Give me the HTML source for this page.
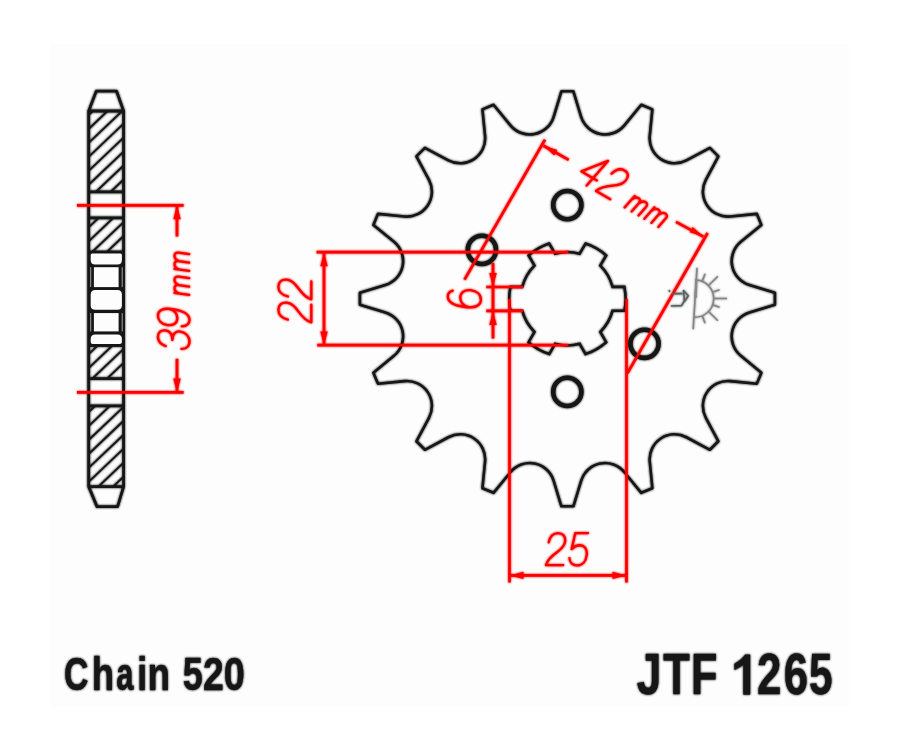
<!DOCTYPE html>
<html><head><meta charset="utf-8"><style>
html,body{margin:0;padding:0;background:#fff;}
body{width:900px;height:752px;overflow:hidden;font-family:"Liberation Sans", sans-serif;}
svg{display:block;}
</style></head><body>
<svg width="900" height="752" viewBox="0 0 900 752"><defs><filter id="soft" x="0" y="0" width="900" height="752" filterUnits="userSpaceOnUse"><feGaussianBlur stdDeviation="0.8"/></filter><g id="art"><defs><clipPath id="h0"><rect x="88.7" y="111.0" width="34.9" height="80.8"/></clipPath><clipPath id="h1"><rect x="88.7" y="217.9" width="34.9" height="33.1"/></clipPath><clipPath id="h2"><rect x="88.7" y="346.0" width="34.9" height="32.6"/></clipPath><clipPath id="h3"><rect x="88.7" y="405.8" width="34.9" height="80.8"/></clipPath></defs><g clip-path="url(#h0)"><line x1="83.70" y1="119.73" x2="128.60" y2="77.08" stroke="#161616" stroke-width="1.90"/><line x1="83.70" y1="133.69" x2="128.60" y2="91.03" stroke="#161616" stroke-width="1.90"/><line x1="83.70" y1="147.63" x2="128.60" y2="104.98" stroke="#161616" stroke-width="1.90"/><line x1="83.70" y1="161.58" x2="128.60" y2="118.93" stroke="#161616" stroke-width="1.90"/><line x1="83.70" y1="175.53" x2="128.60" y2="132.88" stroke="#161616" stroke-width="1.90"/><line x1="83.70" y1="189.48" x2="128.60" y2="146.83" stroke="#161616" stroke-width="1.90"/><line x1="83.70" y1="203.43" x2="128.60" y2="160.78" stroke="#161616" stroke-width="1.90"/><line x1="83.70" y1="217.38" x2="128.60" y2="174.73" stroke="#161616" stroke-width="1.90"/><line x1="83.70" y1="231.33" x2="128.60" y2="188.68" stroke="#161616" stroke-width="1.90"/></g><g clip-path="url(#h1)"><line x1="83.70" y1="218.13" x2="128.60" y2="175.48" stroke="#161616" stroke-width="1.90"/><line x1="83.70" y1="232.08" x2="128.60" y2="189.43" stroke="#161616" stroke-width="1.90"/><line x1="83.70" y1="246.03" x2="128.60" y2="203.38" stroke="#161616" stroke-width="1.90"/><line x1="83.70" y1="259.99" x2="128.60" y2="217.33" stroke="#161616" stroke-width="1.90"/><line x1="83.70" y1="273.94" x2="128.60" y2="231.28" stroke="#161616" stroke-width="1.90"/><line x1="83.70" y1="287.88" x2="128.60" y2="245.23" stroke="#161616" stroke-width="1.90"/></g><g clip-path="url(#h2)"><line x1="83.70" y1="344.94" x2="128.60" y2="302.28" stroke="#161616" stroke-width="1.90"/><line x1="83.70" y1="358.88" x2="128.60" y2="316.23" stroke="#161616" stroke-width="1.90"/><line x1="83.70" y1="372.83" x2="128.60" y2="330.18" stroke="#161616" stroke-width="1.90"/><line x1="83.70" y1="386.78" x2="128.60" y2="344.13" stroke="#161616" stroke-width="1.90"/><line x1="83.70" y1="400.74" x2="128.60" y2="358.08" stroke="#161616" stroke-width="1.90"/><line x1="83.70" y1="414.69" x2="128.60" y2="372.03" stroke="#161616" stroke-width="1.90"/></g><g clip-path="url(#h3)"><line x1="83.70" y1="416.84" x2="128.60" y2="374.18" stroke="#161616" stroke-width="1.90"/><line x1="83.70" y1="430.79" x2="128.60" y2="388.13" stroke="#161616" stroke-width="1.90"/><line x1="83.70" y1="444.74" x2="128.60" y2="402.08" stroke="#161616" stroke-width="1.90"/><line x1="83.70" y1="458.69" x2="128.60" y2="416.03" stroke="#161616" stroke-width="1.90"/><line x1="83.70" y1="472.63" x2="128.60" y2="429.98" stroke="#161616" stroke-width="1.90"/><line x1="83.70" y1="486.59" x2="128.60" y2="443.93" stroke="#161616" stroke-width="1.90"/><line x1="83.70" y1="500.54" x2="128.60" y2="457.88" stroke="#161616" stroke-width="1.90"/><line x1="83.70" y1="514.49" x2="128.60" y2="471.83" stroke="#161616" stroke-width="1.90"/><line x1="83.70" y1="528.44" x2="128.60" y2="485.78" stroke="#161616" stroke-width="1.90"/></g><path d="M96.2 91.2 L116.6 91.2 L123.6 111.0 L123.6 486.6 L117.6 506.6 L97.0 506.6 L88.7 486.6 L88.7 111.0 Z" fill="none" stroke="#161616" stroke-width="2.8" stroke-linejoin="round"/><line x1="88.70" y1="111.00" x2="123.60" y2="111.00" stroke="#161616" stroke-width="2.80"/><line x1="88.70" y1="191.80" x2="123.60" y2="191.80" stroke="#161616" stroke-width="2.80"/><line x1="88.70" y1="217.90" x2="123.60" y2="217.90" stroke="#161616" stroke-width="2.80"/><line x1="88.70" y1="378.60" x2="123.60" y2="378.60" stroke="#161616" stroke-width="2.80"/><line x1="88.70" y1="405.80" x2="123.60" y2="405.80" stroke="#161616" stroke-width="2.80"/><line x1="88.70" y1="486.60" x2="123.60" y2="486.60" stroke="#161616" stroke-width="2.80"/><rect x="88.7" y="250.6" width="34.9" height="96.3" fill="#161616"/><path d="M92.20 253.60 L120.40 253.60 Q121.90 253.60 121.90 255.10 L121.90 259.90 Q121.90 264.40 117.40 264.40 L95.20 264.40 Q90.70 264.40 90.70 259.90 L90.70 255.10 Q90.70 253.60 92.20 253.60 Z" fill="#fdfdfd"/><path d="M95.20 290.00 L117.40 290.00 Q121.90 290.00 121.90 294.50 L121.90 305.20 Q121.90 309.70 117.40 309.70 L95.20 309.70 Q90.70 309.70 90.70 305.20 L90.70 294.50 Q90.70 290.00 95.20 290.00 Z" fill="#fdfdfd"/><path d="M95.20 334.60 L117.40 334.60 Q121.90 334.60 121.90 339.10 L121.90 342.00 Q121.90 344.00 119.90 344.00 L92.70 344.00 Q90.70 344.00 90.70 342.00 L90.70 339.10 Q90.70 334.60 95.20 334.60 Z" fill="#fdfdfd"/><rect x="93.9" y="267.2" width="24.7" height="19.9" fill="#fdfdfd"/><rect x="90.2" y="267.2" width="1.0" height="19.9" fill="#a0a0a0"/><rect x="121.7" y="267.2" width="1.0" height="19.9" fill="#a0a0a0"/><rect x="93.9" y="313.1" width="24.7" height="18.3" fill="#fdfdfd"/><rect x="90.2" y="313.1" width="1.0" height="18.3" fill="#a0a0a0"/><rect x="121.7" y="313.1" width="1.0" height="18.3" fill="#a0a0a0"/><path d="M561.40 91.29 L573.40 91.29 L581.13 116.77 A25.00 25.00 0 0 0 624.38 125.37 L641.27 104.79 L652.36 109.38 L649.75 135.88 A25.00 25.00 0 0 0 686.41 160.37 L709.89 147.82 L718.38 156.31 L705.83 179.79 A25.00 25.00 0 0 0 730.32 216.45 L756.82 213.84 L761.41 224.93 L740.83 241.82 A25.00 25.00 0 0 0 749.43 285.07 L774.91 292.80 L774.91 304.80 L749.43 312.53 A25.00 25.00 0 0 0 740.83 355.78 L761.41 372.67 L756.82 383.76 L730.32 381.15 A25.00 25.00 0 0 0 705.83 417.81 L718.38 441.29 L709.89 449.78 L686.41 437.23 A25.00 25.00 0 0 0 649.75 461.72 L652.36 488.22 L641.27 492.81 L624.38 472.23 A25.00 25.00 0 0 0 581.13 480.83 L573.40 506.31 L561.40 506.31 L553.67 480.83 A25.00 25.00 0 0 0 510.42 472.23 L493.53 492.81 L482.44 488.22 L485.05 461.72 A25.00 25.00 0 0 0 448.39 437.23 L424.91 449.78 L416.42 441.29 L428.97 417.81 A25.00 25.00 0 0 0 404.48 381.15 L377.98 383.76 L373.39 372.67 L393.97 355.78 A25.00 25.00 0 0 0 385.37 312.53 L359.89 304.80 L359.89 292.80 L385.37 285.07 A25.00 25.00 0 0 0 393.97 241.82 L373.39 224.93 L377.98 213.84 L404.48 216.45 A25.00 25.00 0 0 0 428.97 179.79 L416.42 156.31 L424.91 147.82 L448.39 160.37 A25.00 25.00 0 0 0 485.05 135.88 L482.44 109.38 L493.53 104.79 L510.42 125.37 A25.00 25.00 0 0 0 553.67 116.77 Z" fill="none" stroke="#161616" stroke-width="2.60" stroke-linejoin="round"/><path d="M612.56 286.90 L624.37 286.90 A58.20 58.20 0 0 1 624.37 310.70 L612.56 310.70 A46.70 46.70 0 0 1 600.28 331.96 L606.19 342.19 A58.20 58.20 0 0 1 585.58 354.09 L579.67 343.86 A46.70 46.70 0 0 1 555.13 343.86 L549.22 354.09 A58.20 58.20 0 0 1 528.61 342.19 L534.52 331.96 A46.70 46.70 0 0 1 522.24 310.70 L510.43 310.70 A58.20 58.20 0 0 1 510.43 286.90 L522.24 286.90 A46.70 46.70 0 0 1 534.52 265.64 L528.61 255.41 A58.20 58.20 0 0 1 549.22 243.51 L555.13 253.74 A46.70 46.70 0 0 1 579.67 253.74 L585.58 243.51 A58.20 58.20 0 0 1 606.19 255.41 L600.28 265.64 A46.70 46.70 0 0 1 612.56 286.90 Z" fill="none" stroke="#161616" stroke-width="2.6" stroke-linejoin="miter"/><circle cx="567.3" cy="205.1" r="14.1" fill="none" stroke="#161616" stroke-width="4.6"/><circle cx="481.9" cy="249.9" r="14.1" fill="none" stroke="#161616" stroke-width="4.6"/><circle cx="644.5" cy="343.8" r="14.1" fill="none" stroke="#161616" stroke-width="4.6"/><circle cx="567.3" cy="391.9" r="14.1" fill="none" stroke="#161616" stroke-width="4.6"/><line x1="77.00" y1="205.30" x2="183.60" y2="205.30" stroke="#ff0000" stroke-width="2.70"/><line x1="77.00" y1="392.40" x2="183.60" y2="392.40" stroke="#ff0000" stroke-width="2.70"/><line x1="177.00" y1="205.30" x2="177.00" y2="236.50" stroke="#ff0000" stroke-width="2.70"/><line x1="177.00" y1="358.80" x2="177.00" y2="392.40" stroke="#ff0000" stroke-width="2.70"/><path d="M177.00 205.30 L173.30 219.30 L180.70 219.30 Z" fill="#ff0000"/><path d="M177.00 392.40 L180.70 378.40 L173.30 378.40 Z" fill="#ff0000"/><line x1="316.60" y1="252.20" x2="568.30" y2="252.20" stroke="#ff0000" stroke-width="2.70"/><line x1="317.30" y1="345.20" x2="568.30" y2="345.20" stroke="#ff0000" stroke-width="2.70"/><line x1="324.00" y1="252.20" x2="324.00" y2="345.40" stroke="#ff0000" stroke-width="2.70"/><path d="M324.00 252.20 L320.30 266.20 L327.70 266.20 Z" fill="#ff0000"/><path d="M324.00 345.40 L327.70 331.40 L320.30 331.40 Z" fill="#ff0000"/><line x1="486.30" y1="287.00" x2="523.00" y2="287.00" stroke="#ff0000" stroke-width="2.70"/><line x1="486.30" y1="310.90" x2="523.00" y2="310.90" stroke="#ff0000" stroke-width="2.70"/><line x1="493.00" y1="263.00" x2="493.00" y2="338.50" stroke="#ff0000" stroke-width="2.70"/><path d="M493.00 287.00 L496.70 273.00 L489.30 273.00 Z" fill="#ff0000"/><path d="M493.00 310.90 L489.30 324.90 L496.70 324.90 Z" fill="#ff0000"/><line x1="509.50" y1="298.80" x2="509.50" y2="582.40" stroke="#ff0000" stroke-width="2.70"/><line x1="626.50" y1="298.80" x2="626.50" y2="582.40" stroke="#ff0000" stroke-width="2.70"/><line x1="509.50" y1="575.40" x2="626.50" y2="575.40" stroke="#ff0000" stroke-width="2.70"/><path d="M509.50 575.40 L523.50 579.10 L523.50 571.70 Z" fill="#ff0000"/><path d="M626.50 575.40 L612.50 571.70 L612.50 579.10 Z" fill="#ff0000"/><line x1="464.50" y1="279.70" x2="545.00" y2="139.60" stroke="#ff0000" stroke-width="2.70"/><line x1="627.50" y1="373.10" x2="707.60" y2="233.00" stroke="#ff0000" stroke-width="2.70"/><line x1="543.60" y1="145.80" x2="568.70" y2="159.90" stroke="#ff0000" stroke-width="2.70"/><line x1="676.00" y1="221.90" x2="703.30" y2="236.60" stroke="#ff0000" stroke-width="2.70"/><path d="M543.60 145.80 L554.21 155.45 L557.29 150.07 Z" fill="#ff0000"/><path d="M703.30 236.60 L692.69 226.95 L689.61 232.33 Z" fill="#ff0000"/><path d="M 548.71 542.38 C 549.99 536.30 553.84 533.10 558.00 533.10 C 562.80 533.10 565.67 536.30 565.13 541.42 C 564.66 545.90 561.44 549.10 556.95 552.30 C 550.71 556.78 547.11 560.62 546.00 565.10 L 563.28 565.10 M 588.08 533.10 L 575.28 533.10 L 571.68 549.10 C 574.19 546.54 576.89 545.26 579.77 545.26 C 584.57 545.26 587.36 549.10 586.72 555.18 C 586.05 561.58 582.13 565.42 577.01 565.42 C 572.53 565.42 569.63 562.54 569.46 558.06" fill="none" stroke="#ff0000" stroke-width="2.30" stroke-linecap="round" stroke-linejoin="round"/><path d="M 287.94 319.52 C 281.69 318.20 278.40 314.24 278.40 309.96 C 278.40 305.02 281.69 302.08 286.95 302.63 C 291.56 303.12 294.85 306.42 298.14 311.05 C 302.75 317.45 306.69 321.16 311.30 322.30 L 311.30 304.53 M 287.94 296.49 C 281.69 295.17 278.40 291.21 278.40 286.93 C 278.40 281.99 281.69 279.05 286.95 279.60 C 291.56 280.09 294.85 283.39 298.14 288.02 C 302.75 294.42 306.69 298.13 311.30 299.27 L 311.30 281.50" fill="none" stroke="#ff0000" stroke-width="2.30" stroke-linecap="round" stroke-linejoin="round"/><path d="M 452.72 290.65 C 449.44 291.62 447.80 293.42 447.80 296.37 C 447.80 302.27 454.36 305.91 465.51 307.09 C 476.01 308.19 480.93 305.10 480.93 299.85 C 480.93 294.60 476.99 290.91 470.43 290.22 C 464.20 289.56 460.26 292.76 460.26 297.68 C 460.26 302.27 463.54 306.22 468.79 307.10" fill="none" stroke="#ff0000" stroke-width="2.30" stroke-linecap="round" stroke-linejoin="round"/><path d="M 165.72 346.07 C 160.72 344.43 157.90 340.91 157.90 336.84 C 157.90 332.14 161.03 329.76 165.41 330.38 C 169.79 331.00 172.30 334.48 172.30 340.11 C 172.30 333.85 175.74 330.89 180.44 331.55 C 185.76 332.30 189.51 336.58 189.51 341.28 C 189.51 346.29 186.38 348.98 181.38 348.90 M 181.69 326.41 C 186.70 326.17 189.51 323.75 189.51 320.00 C 189.51 314.36 183.25 310.67 172.30 309.13 C 162.28 307.72 157.90 310.55 157.90 315.55 C 157.90 320.56 161.66 324.22 167.60 325.05 C 173.55 325.89 177.31 322.98 177.31 318.28 C 177.31 313.90 174.49 310.06 169.48 309.04 M 189.20 294.91 L 174.49 292.84 M 178.90 293.46 C 175.67 292.13 174.49 290.49 174.49 288.28 C 174.49 285.78 175.96 284.67 178.61 285.04 L 189.20 286.53 M 178.90 285.08 C 175.67 283.74 174.49 282.11 174.49 279.90 C 174.49 277.40 175.96 276.28 178.61 276.65 L 189.20 278.14 M 189.20 270.93 L 174.49 268.87 M 178.90 269.49 C 175.67 268.15 174.49 266.51 174.49 264.31 C 174.49 261.80 175.96 260.69 178.61 261.06 L 189.20 262.55 M 178.90 261.10 C 175.67 259.76 174.49 258.13 174.49 255.92 C 174.49 253.42 175.96 252.30 178.61 252.67 L 189.20 254.16" fill="none" stroke="#ff0000" stroke-width="2.30" stroke-linecap="round" stroke-linejoin="round"/><path d="M 586.64 185.52 L 608.03 160.92 L 581.42 171.42 L 596.94 180.38 M 611.51 173.64 C 616.10 169.27 621.13 168.49 624.56 170.46 C 628.51 172.74 629.00 176.72 625.58 180.66 C 622.58 184.10 618.08 185.19 612.51 185.68 C 604.78 186.39 599.58 187.82 596.06 190.96 L 610.28 199.17 M 624.61 207.44 L 634.66 195.88 M 631.64 199.35 C 634.59 197.23 636.62 197.01 638.45 198.07 C 640.53 199.27 640.63 201.06 638.82 203.14 L 631.58 211.47 M 638.62 203.37 C 641.57 201.26 643.60 201.04 645.43 202.10 C 647.51 203.30 647.61 205.09 645.80 207.17 L 638.56 215.50 M 644.40 218.87 L 654.46 207.31 M 651.44 210.78 C 654.39 208.66 656.41 208.44 658.25 209.50 C 660.33 210.70 660.43 212.49 658.62 214.57 L 651.38 222.90 M 658.42 214.81 C 661.37 212.69 663.39 212.47 665.23 213.53 C 667.31 214.73 667.41 216.52 665.60 218.60 L 658.36 226.93" fill="none" stroke="#ff0000" stroke-width="2.30" stroke-linecap="round" stroke-linejoin="round"/><line x1="697.0" y1="267.8" x2="693.2" y2="329.2" stroke="#858585" stroke-width="1.6"/><line x1="696.3" y1="279.0" x2="695.6" y2="298.0" stroke="#8a8a8a" stroke-width="2.4"/><path d="M696.2 280.0 A18.6 18.6 0 0 1 694.0 317.2" fill="none" stroke="#858585" stroke-width="1.6"/><line x1="702.3" y1="281.1" x2="705.1" y2="273.8" stroke="#858585" stroke-width="1.6"/><line x1="708.8" y1="285.3" x2="717.9" y2="276.2" stroke="#858585" stroke-width="1.6"/><line x1="713.1" y1="292.1" x2="719.6" y2="289.8" stroke="#858585" stroke-width="1.6"/><line x1="714.2" y1="298.5" x2="727.1" y2="298.5" stroke="#858585" stroke-width="1.6"/><line x1="713.1" y1="304.9" x2="719.6" y2="307.2" stroke="#858585" stroke-width="1.6"/><line x1="708.8" y1="311.7" x2="717.9" y2="320.8" stroke="#858585" stroke-width="1.6"/><line x1="702.3" y1="315.9" x2="705.1" y2="323.2" stroke="#858585" stroke-width="1.6"/><path d="M672 293.6 L682.5 293.6 M670.8 306 L681.6 305.6 L684.5 300.5 M683.5 290.5 L688.3 295.8 L684.5 301.5 Z" fill="none" stroke="#5a5f5f" stroke-width="1.6" stroke-linejoin="round"/><line x1="669.2" y1="289.8" x2="669.6" y2="292" stroke="#5a6a6a" stroke-width="1.6"/><text transform="translate(63.96,689.80) scale(0.7429,1)" font-size="45.5" font-weight="bold" fill="#161616" stroke="#161616" stroke-width="0.4" stroke-linejoin="round" font-family="Liberation Sans">C</text><text transform="translate(91.68,689.80) scale(0.8075,1)" font-size="45.5" font-weight="bold" fill="#161616" stroke="#161616" stroke-width="0.4" stroke-linejoin="round" font-family="Liberation Sans">h</text><text transform="translate(116.14,689.80) scale(0.6801,1)" font-size="45.5" font-weight="bold" fill="#161616" stroke="#161616" stroke-width="0.4" stroke-linejoin="round" font-family="Liberation Sans">a</text><text transform="translate(137.26,689.80) scale(0.7849,1)" font-size="45.5" font-weight="bold" fill="#161616" stroke="#161616" stroke-width="0.4" stroke-linejoin="round" font-family="Liberation Sans">i</text><text transform="translate(147.61,689.80) scale(0.8147,1)" font-size="45.5" font-weight="bold" fill="#161616" stroke="#161616" stroke-width="0.4" stroke-linejoin="round" font-family="Liberation Sans">n</text><text transform="translate(182.74,689.80) scale(0.7951,1)" font-size="45.5" font-weight="bold" fill="#161616" stroke="#161616" stroke-width="0.4" stroke-linejoin="round" font-family="Liberation Sans">5</text><text transform="translate(202.95,689.80) scale(0.8217,1)" font-size="45.5" font-weight="bold" fill="#161616" stroke="#161616" stroke-width="0.4" stroke-linejoin="round" font-family="Liberation Sans">2</text><text transform="translate(223.75,689.80) scale(0.8318,1)" font-size="45.5" font-weight="bold" fill="#161616" stroke="#161616" stroke-width="0.4" stroke-linejoin="round" font-family="Liberation Sans">0</text><text transform="translate(636.68,694.40) scale(0.7690,1)" font-size="57.5" font-weight="bold" fill="#161616" stroke="#161616" stroke-width="0.4" stroke-linejoin="round" font-family="Liberation Sans">J</text><text transform="translate(663.16,694.40) scale(0.7531,1)" font-size="57.5" font-weight="bold" fill="#161616" stroke="#161616" stroke-width="0.4" stroke-linejoin="round" font-family="Liberation Sans">T</text><text transform="translate(691.05,694.40) scale(0.7542,1)" font-size="57.5" font-weight="bold" fill="#161616" stroke="#161616" stroke-width="0.4" stroke-linejoin="round" font-family="Liberation Sans">F</text><text transform="translate(757.03,694.40) scale(0.7622,1)" font-size="57.5" font-weight="bold" fill="#161616" stroke="#161616" stroke-width="0.4" stroke-linejoin="round" font-family="Liberation Sans">2</text><text transform="translate(783.75,694.40) scale(0.7591,1)" font-size="57.5" font-weight="bold" fill="#161616" stroke="#161616" stroke-width="0.4" stroke-linejoin="round" font-family="Liberation Sans">6</text><text transform="translate(809.05,694.40) scale(0.7340,1)" font-size="57.5" font-weight="bold" fill="#161616" stroke="#161616" stroke-width="0.4" stroke-linejoin="round" font-family="Liberation Sans">5</text><path d="M743.5 694.4 H750.0 V654.8 H745.2 Q741.5 660.2 734.6 663.8 V669.8 Q739.8 667.6 743.5 664.6 Z" fill="#161616" stroke="#161616" stroke-width="0.5"/></g></defs><rect width="900" height="752" fill="#fff"/><rect x="50.2" y="43.7" width="799.1" height="663.6" fill="#fdfdfd"/><use href="#art" filter="url(#soft)"/><use href="#art"/></svg>
</body></html>
